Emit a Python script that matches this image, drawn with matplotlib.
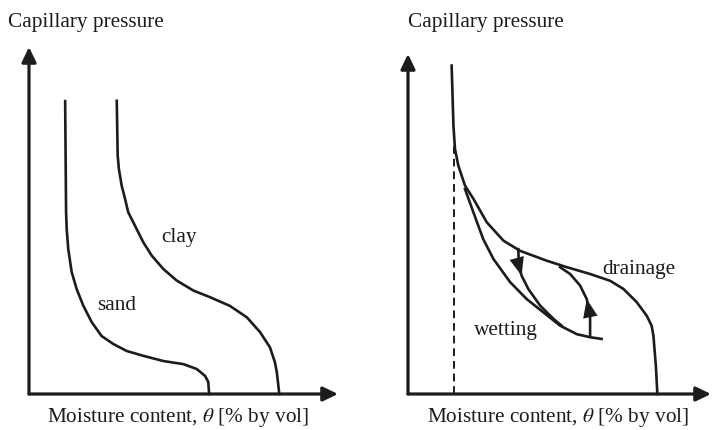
import matplotlib
matplotlib.use("Agg")
import matplotlib.pyplot as plt

plt.rcParams["font.family"] = ["Liberation Serif", "DejaVu Serif"]
plt.rcParams["mathtext.fontset"] = "stix"

ink = "#1c1c1c"

# retention curves, x = moisture content (0-100), y = capillary pressure (0-100)
sand_x = [11.7, 12.0, 12.2, 12.7, 13.8, 15.4, 17.6, 20.3, 23.5, 27.3, 31.6,
          37.0, 43.5, 50.0, 54.3, 57.0, 58.0, 58.3]
sand_y = [84.4, 52.4, 47.6, 41.8, 35.2, 30.3, 25.4, 20.7, 16.7, 14.4, 12.4,
          11.0, 9.5, 8.6, 7.2, 5.2, 3.5, 0.0]
clay_x = [28.4, 28.7, 29.1, 30.0, 31.1, 32.1, 34.3, 37.0, 39.7, 43.5, 47.8,
          53.2, 58.6, 65.0, 70.5, 74.8, 78.0, 79.6, 80.2, 81.0]
clay_y = [84.5, 68.7, 64.8, 60.0, 56.2, 52.4, 48.5, 43.7, 39.9, 36.0, 32.7,
          29.8, 27.9, 25.4, 22.1, 17.8, 13.4, 9.1, 6.3, 0.0]

# hysteresis panel
drain_x = [14.4, 15.0, 15.5, 16.6, 18.8, 21.6, 26.0, 31.5, 37.0, 45.8, 52.4,
           60.1, 66.7, 71.1, 75.5, 78.8, 80.4, 81.0, 81.8, 82.3]
drain_y = [96.6, 78.9, 72.1, 67.2, 61.3, 57.4, 50.5, 45.1, 42.1, 39.2, 37.3,
           35.3, 33.3, 30.9, 27.0, 23.0, 20.1, 17.1, 8.3, 0.0]
wet_x = [18.8, 21.6, 24.8, 28.2, 33.7, 39.2, 44.7, 50.2, 55.7, 60.1, 63.9]
wet_y = [60.3, 53.4, 45.6, 39.7, 32.9, 27.9, 24.0, 20.1, 17.6, 16.7, 16.2]
scan_wet_x = [36.4, 36.6, 37.5, 39.7, 43.6, 48.0, 50.7]
scan_wet_y = [42.6, 37.7, 34.8, 30.9, 26.0, 22.1, 20.1]
scan_drain_x = [60.1, 60.1, 59.0, 56.8, 53.5, 50.2]
scan_drain_y = [17.1, 23.0, 27.9, 31.9, 35.3, 37.3]
residual_x = 15.2
residual_top = 72.9

W, H = 712, 431
fig = plt.figure(figsize=(W / 100, H / 100), dpi=100)

ax1 = fig.add_axes([29 / W, (H - 395) / H, 309 / W, 347 / H])
ax2 = fig.add_axes([408 / W, (H - 395) / H, 303 / W, 340 / H])

for ax in (ax1, ax2):
    ax.set_xlim(0, 100)
    ax.set_ylim(0, 100)
    ax.axis("off")
    arrow = dict(arrowstyle="-|>,head_length=0.5,head_width=0.24", lw=2.3,
                 color=ink, mutation_scale=18, shrinkA=0, shrinkB=0)
    ax.annotate("", xy=(1, 0), xytext=(0, 0), xycoords="axes fraction",
                arrowprops=arrow, annotation_clip=False)
    ax.annotate("", xy=(0, 1), xytext=(0, 0), xycoords="axes fraction",
                arrowprops=arrow, annotation_clip=False)

ax1.plot(sand_x, sand_y, color=ink, lw=1.9, clip_on=False, solid_joinstyle="round")
ax1.plot(clay_x, clay_y, color=ink, lw=1.9, clip_on=False, solid_joinstyle="round")
ax1.text(48.5, 45.5, "clay", fontsize=15.3, ha="center", va="center", color=ink)
ax1.text(28.5, 25.9, "sand", fontsize=15.3, ha="center", va="center", color=ink)

for xs, ys in [(drain_x, drain_y), (wet_x, wet_y), (scan_wet_x, scan_wet_y),
               (scan_drain_x, scan_drain_y)]:
    ax2.plot(xs, ys, color=ink, lw=1.9, clip_on=False, solid_joinstyle="round")
ax2.plot([residual_x, residual_x], [0, residual_top], color=ink, lw=1.4,
         ls=(0, (4, 2.5)))
head = dict(arrowstyle="-|>,head_length=0.55,head_width=0.22", lw=0, color=ink,
            mutation_scale=24, shrinkA=0, shrinkB=0)
ax2.annotate("", xy=(scan_wet_x[2], scan_wet_y[2]),
             xytext=(scan_wet_x[1], scan_wet_y[1]), arrowprops=head)
ax2.annotate("", xy=(scan_drain_x[2], scan_drain_y[2]),
             xytext=(scan_drain_x[1], scan_drain_y[1]), arrowprops=head)
ax2.text(76.2, 36.8, "drainage", fontsize=15.3, ha="center", va="center", color=ink)
ax2.text(32.3, 19.1, "wetting", fontsize=15.3, ha="center", va="center", color=ink)

fig.text(8 / W, 1 - 22 / H, "Capillary pressure", fontsize=15.3, ha="left",
         va="center", color=ink)
fig.text(408 / W, 1 - 22 / H, "Capillary pressure", fontsize=15.3, ha="left",
         va="center", color=ink)
xlabel = r"Moisture content, $\theta$ [% by vol]"
fig.text(178 / W, 1 - 418 / H, xlabel, fontsize=15.3, ha="center", va="center",
         color=ink)
fig.text(558 / W, 1 - 418 / H, xlabel, fontsize=15.3, ha="center", va="center",
         color=ink)

fig.savefig("out.png", dpi=100)
